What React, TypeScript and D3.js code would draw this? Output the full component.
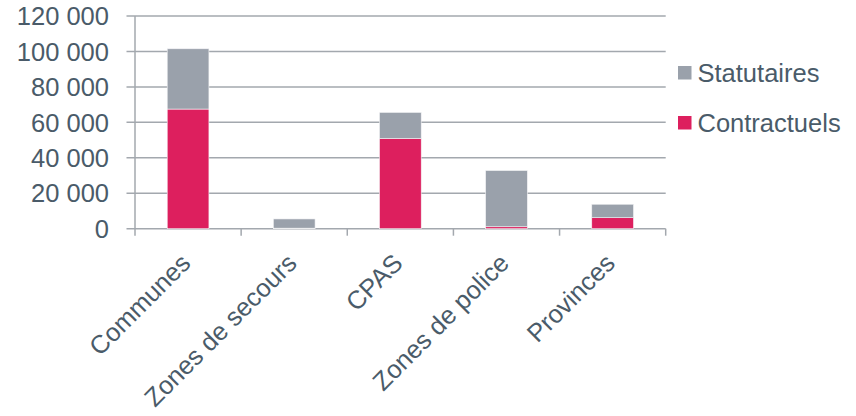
import React from "react";
import * as d3 from "d3";

const categories = ["Communes", "Zones de secours", "CPAS", "Zones de police", "Provinces"];
const contractuels = [67500, 300, 50900, 1100, 6200];
const statutaires = [34000, 5200, 14700, 31700, 7600];
const seriesNames = ["Contractuels", "Statutaires"];
const yTicks = [0, 20000, 40000, 60000, 80000, 100000, 120000];

const W = 856;
const H = 416;
const left = 135;
const right = 665.7;
const top = 16;
const bottom = 228.7;
const textColor = "#4a5b69";
const gridColor = "#a3a8ae";
const colors: Record<string, string> = { Contractuels: "#dd1f5e", Statutaires: "#9aa1ab" };
const font = "'Liberation Sans', Arial, sans-serif";
const fontSize = 25.5;

const fmt = d3.formatLocale({ thousands: "\u00a0", grouping: [3], decimal: ",", currency: ["", ""] }).format(",d");

export default function App() {
  const x = d3.scaleBand<string>().domain(categories).range([left, right]).padding(0);
  const y = d3.scaleLinear().domain([0, 120000]).range([bottom, top]);
  const rows = categories.map((c, i) => ({ cat: c, Contractuels: contractuels[i], Statutaires: statutaires[i] }));
  const stack = d3.stack<any>().keys(seriesNames)(rows);
  const bw = x.bandwidth() * 0.393;

  return (
    <svg width={W} height={H} style={{ position: "absolute", left: 0, top: 0, background: "#fff" }} fontFamily={font}>
      {yTicks.map((t) => (
        <g key={t}>
          <line x1={left - 8.5} x2={right} y1={y(t)} y2={y(t)} stroke={gridColor} strokeWidth={1.5} />
          <text x={109} y={y(t)} dy="0.36em" textAnchor="end" fontSize={fontSize} fill={textColor}>
            {fmt(t)}
          </text>
        </g>
      ))}
      <line x1={left} x2={left} y1={top} y2={bottom + 7} stroke={gridColor} strokeWidth={1.5} />
      {categories.map((c, i) => (
        <line key={c} x1={x(c)! + x.bandwidth()} x2={x(c)! + x.bandwidth()} y1={bottom} y2={bottom + 7} stroke={gridColor} strokeWidth={1.5} />
      ))}
      {stack.map((s) => (
        <g key={s.key} fill={colors[s.key]}>
          {s.map((d, i) => (
            <rect
              key={i}
              x={x(categories[i])! + x.bandwidth() / 2 - bw / 2}
              width={bw}
              y={y(d[1])}
              height={Math.max(0, y(d[0]) - y(d[1]))}
              stroke="#f4f4f6"
              strokeWidth={0.6}
            />
          ))}
        </g>
      ))}
      {categories.map((c) => (
        <text
          key={c}
          transform={`translate(${x(c)! + x.bandwidth() / 2 + 4},${bottom + 36}) rotate(-45)`}
          textAnchor="end"
          fontSize={fontSize}
          fill={textColor}
        >
          {c}
        </text>
      ))}
      {["Statutaires", "Contractuels"].map((k, i) => (
        <g key={k} transform={`translate(678,${66 + i * 50})`}>
          <rect width={13.5} height={13.5} fill={colors[k]} />
          <text x={19.5} y={15.5} fontSize={fontSize} fill={textColor}>
            {k}
          </text>
        </g>
      ))}
    </svg>
  );
}
